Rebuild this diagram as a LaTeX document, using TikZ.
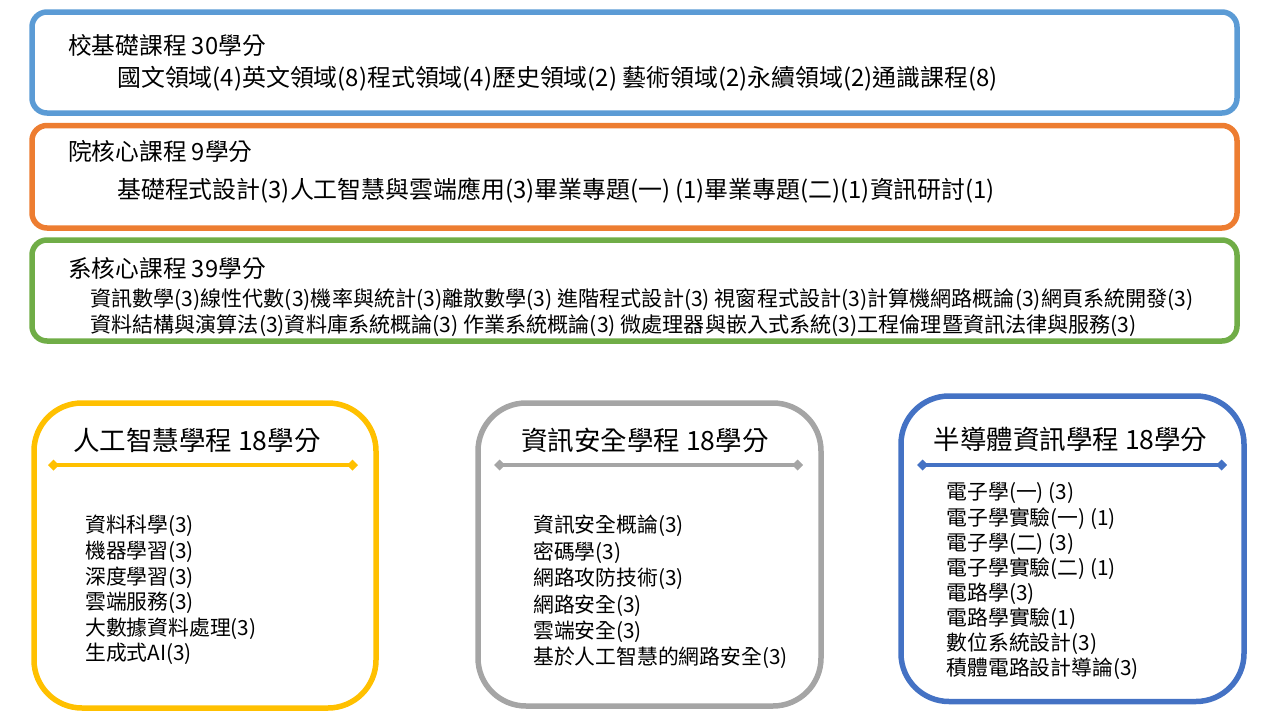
\documentclass[tikz,border=0pt]{standalone}
\usepackage{fontspec}
\setmainfont{Noto Sans CJK TC}
\usetikzlibrary{arrows.meta}
\definecolor{cA}{HTML}{5B9BD5}
\definecolor{cB}{HTML}{ED7D31}
\definecolor{cC}{HTML}{70AD47}
\definecolor{cD}{HTML}{FFC000}
\definecolor{cE}{HTML}{A5A5A5}
\definecolor{cF}{HTML}{4472C4}
\begin{document}
\begin{tikzpicture}[x=1pt,y=-1pt,
  panel/.style={draw, line width=5.5pt, rounded corners=15pt, inner sep=0pt, fill=none},
  prog/.style={draw, line width=5.5pt, rounded corners=48pt, inner sep=0pt},
  hd/.style={anchor=base west, inner sep=0pt, font=\fontsize{23.7}{28}\selectfont},
  itl/.style={anchor=base west, inner sep=0pt, font=\fontsize{23.9}{28}\selectfont},
  gl/.style={anchor=base west, inner sep=0pt, font=\fontsize{21.1}{26}\selectfont},
  ttl/.style={anchor=base, inner sep=0pt, font=\fontsize{26.5}{32}\selectfont},
  li/.style={anchor=base west, inner sep=0pt, font=\fontsize{20.8}{25}\selectfont},
  rule/.style={line width=3.5pt, {Diamond[length=11pt,width=11pt]}-{Diamond[length=11pt,width=11pt]}}
]
\useasboundingbox (0,0) rectangle (1280,720);
% top panels
\node[panel, draw=cA, minimum width=1205pt, minimum height=101pt] (s1) at (634.5,62.5) {};
\node[panel, draw=cB, minimum width=1205pt, minimum height=102.5pt] (s2) at (634.5,176.75) {};
\node[panel, draw=cC, minimum width=1205pt, minimum height=101pt] (s3) at (634.5,290.5) {};
\node[hd] (s1h) at (68,54.9) {校基礎課程 30學分};
\node[itl] (s1i) at (117,86) {國文領域(4)英文領域(8)程式領域(4)歷史領域(2) 藝術領域(2)永續領域(2)通識課程(8)};
\node[hd] (s2h) at (68,160.9) {院核心課程 9學分};
\node[itl] (s2i) at (117,198) {基礎程式設計(3)人工智慧與雲端應用(3)畢業專題(一) (1)畢業專題(二)(1)資訊研討(1)};
\node[hd] (s3h) at (68,277.9) {系核心課程 39學分};
\node[gl] (s3a) at (90,306.1) {資訊數學(3)線性代數(3)機率與統計(3)離散數學(3) 進階程式設計(3) 視窗程式設計(3)計算機網路概論(3)網頁系統開發(3)};
\node[gl] (s3b) at (90,332.1) {資料結構與演算法(3)資料庫系統概論(3) 作業系統概論(3) 微處理器與嵌入式系統(3)工程倫理暨資訊法律與服務(3)};
% program panels
\node[prog, draw=cD, minimum width=342pt, minimum height=305pt] (p1) at (205,555.5) {};
\node[prog, draw=cE, minimum width=343pt, minimum height=303pt] (p2) at (649.5,554.5) {};
\node[prog, draw=cF, minimum width=343pt, minimum height=305.5pt] (p3) at (1072.5,548.75) {};
\node[ttl] (p1t) at (197,450) {人工智慧學程 18學分};
\node[ttl] (p2t) at (645,450) {資訊安全學程 18學分};
\node[ttl] (p3t) at (1070.5,449) {半導體資訊學程 18學分};
\coordinate (p1l) at (48,465); \coordinate (p1r) at (358,465);
\coordinate (p2l) at (494,465); \coordinate (p2r) at (803,465);
\coordinate (p3l) at (917,465); \coordinate (p3r) at (1227,465);
\draw[rule, cD] (p1l) -- (p1r);
\draw[rule, cE] (p2l) -- (p2r);
\draw[rule, cF] (p3l) -- (p3r);
\foreach \t [count=\i] in {資料科學(3),機器學習(3),深度學習(3),雲端服務(3),大數據資料處理(3),生成式AI(3)}
  \node[li] (a\i) at (85,{532.9+25.6*(\i-1)}) {\t};
\foreach \t [count=\i] in {資訊安全概論(3),密碼學(3),網路攻防技術(3),網路安全(3),雲端安全(3),基於人工智慧的網路安全(3)}
  \node[li] (b\i) at (533,{532.9+26.4*(\i-1)}) {\t};
\foreach \t [count=\i] in {電子學(一) (3),電子學實驗(一) (1),電子學(二) (3),電子學實驗(二) (1),電路學(3),電路學實驗(1),數位系統設計(3),積體電路設計導論(3)}
  \node[li] (c\i) at (946.5,{499.9+25.1*(\i-1)}) {\t};
\end{tikzpicture}
\end{document}
